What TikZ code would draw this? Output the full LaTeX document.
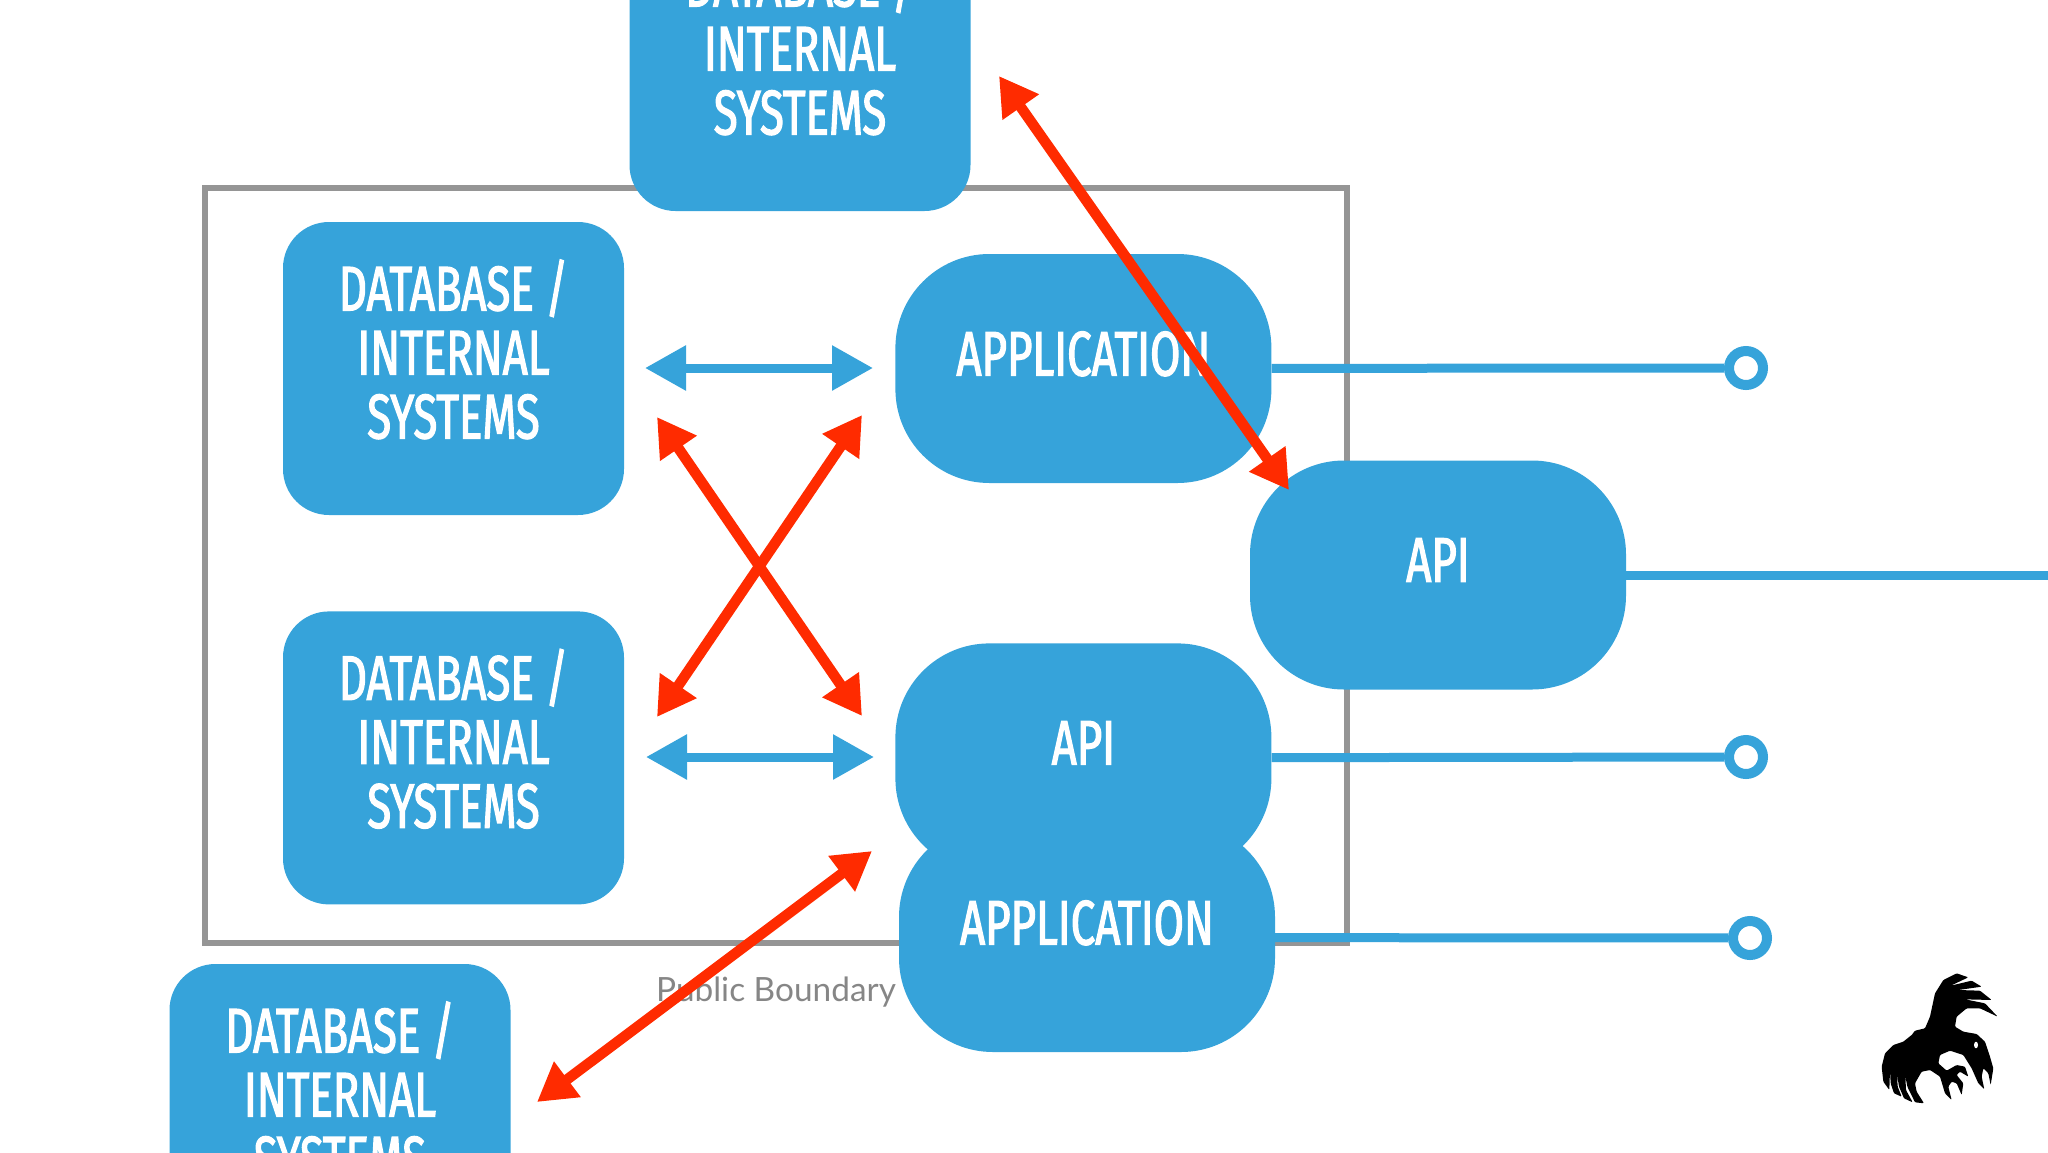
\documentclass[tikz,border=0pt]{standalone}
\usepackage{fontspec}
\usepackage{xcolor}
\setmainfont{Lato}
\newfontfamily\dinfont[FakeStretch=0.695,FakeBold=1.9]{Fira Sans}
\usetikzlibrary{positioning, arrows.meta}
\definecolor{slideblue}{HTML}{36A3DA}
\definecolor{slidered}{HTML}{FF2B00}
\definecolor{slidegray}{HTML}{959595}
\tikzset{% styles for the slide
	box/.style={shape=rectangle, fill=slideblue, text=white, inner sep=0pt,
		font=\dinfont\fontsize{63}{64}\selectfont, align=center},
	dbbox/.style={box, minimum width=341pt, minimum height=293pt, rounded corners=46pt, text depth=39pt},
	appbox/.style={box, minimum width=376pt, minimum height=229pt, rounded corners=94pt, text depth=30pt},
	port/.style={shape=circle, draw=slideblue, fill=white, line width=10pt, minimum size=34pt, inner sep=0pt},
	blueline/.style={slideblue, line width=9pt},
	bluearrow/.style={{Triangle[length=41pt,width=43pt]}-{Triangle[length=41pt,width=43pt]}, slideblue, line width=9pt},
	redarrow/.style={{Triangle[length=38pt,width=42pt]}-{Triangle[length=38pt,width=42pt]}, slidered, line width=10.5pt},
}
\begin{document}
\begin{tikzpicture}[x=1pt,y=-1pt]
	\useasboundingbox (0,0) rectangle (2048,1152);
	\node[shape=rectangle, draw=slidegray, line width=6pt, minimum width=1142pt, minimum height=755pt, inner sep=0pt] (boundary) at (776,565.5) {};
	\node[font=\fontsize{33.4}{38}\selectfont, text=slidegray!90!black, inner sep=0pt] (publiclabel) at (776,992.5) {Public Boundary};

	\node[dbbox] (dbtop) at (800,64.5) {DATABASE /\\INTERNAL\\SYSTEMS};
	\node[dbbox] (dbone) at (453.5,368.5) {DATABASE /\\INTERNAL\\SYSTEMS};
	\node[dbbox, below=96pt of dbone] (dbtwo) {DATABASE /\\INTERNAL\\SYSTEMS};
	\node[dbbox] (dbout) at (340,1110.5) {DATABASE /\\INTERNAL\\SYSTEMS};

	\node[appbox, right=271pt of dbone] (appone) {APPLICATION};
	\node[appbox, right=271pt of dbtwo] (apitwo) {API};
	\node[appbox] (apptwo) at (1087,937.5) {APPLICATION};
	\node[appbox] (apiout) at (1438,575) {API};

	\node[port] (portone) at (1746,368) {};
	\node[port] (porttwo) at (1746,757) {};
	\node[port] (portthree) at (1750,938) {};
	\coordinate (edge) at (2048,575);

	\draw[blueline] (appone) -- (portone);
	\draw[blueline] (apitwo) -- (porttwo);
	\draw[blueline] (apptwo) -- (portthree);
	\draw[blueline] (apiout) -- (edge);

	% free arrow ends
	\coordinate (blueonel) at (645,368);
	\coordinate (blueoner) at (873,368);
	\coordinate (bluetwol) at (646,757);
	\coordinate (bluetwor) at (874,757);
	\coordinate (crossal) at (657,417);
	\coordinate (crossar) at (862,716);
	\coordinate (crossbl) at (657,717);
	\coordinate (crossbr) at (862,415);
	\coordinate (topa) at (999,76);
	\coordinate (topb) at (1289,490);
	\coordinate (bota) at (872,851);
	\coordinate (botb) at (537,1102);

	\draw[bluearrow] (blueonel) -- (blueoner);
	\draw[bluearrow] (bluetwol) -- (bluetwor);
	\draw[redarrow] (crossal) -- (crossar);
	\draw[redarrow] (crossbl) -- (crossbr);
	\draw[redarrow] (topa) -- (topb);
	\draw[redarrow] (bota) -- (botb);

	% logo
	\begin{scope}[shift={(1800,940)},x=.3333pt,y=-.3333pt]
		\fill[black, rounded corners=1pt] (470,100) -- (505,112) -- (452,137) -- (515,122) -- (545,140) -- (475,150) -- (540,152) -- (575,180) -- (495,178) -- (555,190) -- (593,230) -- (540,205) -- (500,205) -- (470,230) -- (465,260) -- (490,275) -- (530,282) -- (555,305) -- (570,350) -- (580,385) -- (572,435) -- (565,400) -- (550,385) -- (545,410) -- (553,448) -- (535,430) -- (515,385) -- (490,345) -- (450,332) -- (420,345) -- (415,370) -- (440,392) -- (470,375) -- (495,380) -- (505,410) -- (480,395) -- (470,405) -- (490,430) -- (485,465) -- (470,430) -- (455,425) -- (445,440) -- (455,480) -- (435,460) -- (420,410) -- (390,390) -- (365,395) -- (345,430) -- (350,455) -- (372,490) -- (345,487) -- (322,440) -- (316,408) -- (318,450) -- (338,487) -- (312,475) -- (297,440) -- (291,402) -- (293,440) -- (305,470) -- (282,460) -- (272,430) -- (270,390) -- (268,450) -- (250,425) -- (245,380) -- (255,340) -- (280,315) -- (310,305) -- (335,285) -- (345,272) -- (375,265) -- (390,230) -- (405,160) -- (430,120) -- cycle;
		\fill[white] (528,315) ellipse (6 and 10);
	\end{scope}
\end{tikzpicture}
\end{document}
